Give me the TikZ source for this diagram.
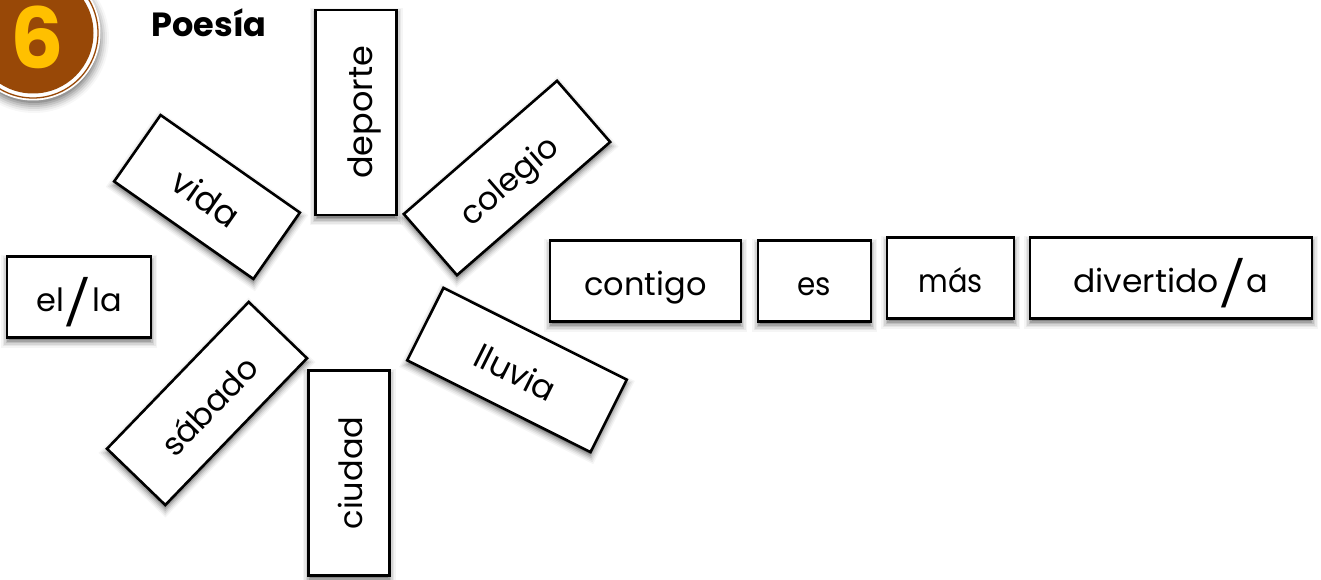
\documentclass[tikz,border=0pt]{standalone}
\usepackage{fontspec}
\setmainfont{Poppins}
\newfontfamily\thinface{Poppins Light}
\tikzset{
 x=1pt,y=-1pt,
 word/.style={draw=black,line width=2.6pt,fill=white,minimum height=81pt,inner sep=0pt,font=\fontsize{32}{32}\selectfont,text=black,anchor=center,text height=28pt,text depth=0pt},
}
\newcommand{\softbox}[4]{% cx, cy, width, angle
 \begin{scope}[shift={(#1,#2+4)},rotate=#4]
 \foreach \s/\o in {6/.04,4.5/.06,3/.08,1.5/.11,0/.15,-1.5/.18}{
  \fill[black,opacity=\o] ({-#3/2-\s},{-40.5-\s}) rectangle ({#3/2+\s},{40.5+\s});}
 \end{scope}}
\newcommand{\bigslash}{\raisebox{-8.5pt}{\scalebox{2}[1.4]{\thinface /}}}
\definecolor{badge}{HTML}{984807}
\definecolor{six}{HTML}{FFC000}
\begin{document}
\begin{tikzpicture}
\useasboundingbox (0,0) rectangle (1321,580);
\begin{scope}
\clip (0,0) rectangle (1321,580);
\foreach \r/\o in {75/.03,73/.05,71/.07,69/.09,67/.11,65/.14}{\fill[black,opacity=\o] (34,38) circle[radius=\r pt];}
\fill[white] (33,33) circle[radius=67.5pt];
\draw[badge,line width=1.3pt] (33,33) circle[radius=65pt];
\fill[badge] (33,33) circle[radius=60.5pt];
\node[font=\fontsize{84}{84}\selectfont\bfseries,text=six] (six) at (37.5,37) {6};
\end{scope}
\node[font=\fontsize{33.5}{33.5}\selectfont\bfseries,text=black] (poesia) at (209,23) {Poesía};
\softbox{207}{197}{170}{-35}
\softbox{356}{112.5}{205}{90}
\softbox{507}{178}{203}{41}
\softbox{517}{370}{205}{-26.6}
\softbox{349}{473}{205}{90}
\softbox{207}{403.5}{204}{46}
\softbox{79}{297}{144}{0}
\softbox{645.5}{281}{191}{0}
\softbox{814.5}{281}{113}{0}
\softbox{950.5}{278}{127}{0}
\softbox{1171}{278}{282}{0}
\node[word,minimum width=170pt,rotate=-35,font=\fontsize{34}{34}\selectfont] (vida) at (207,197) {vida};
\node[word,minimum width=205pt,rotate=90,font=\fontsize{33.5}{33.5}\selectfont,text height=32pt] (deporte) at (356,112.5) {deporte};
\node[word,minimum width=203pt,rotate=41] (colegio) at (507,178) {colegio};
\node[word,minimum width=205pt,rotate=-26.6,font=\fontsize{33}{33}\selectfont,text height=30pt] (lluvia) at (517,370) {lluvia};
\node[word,minimum width=205pt,rotate=90,text height=26pt] (ciudad) at (349,473) {ciudad};
\node[word,minimum width=204pt,rotate=46,text height=31pt] (sabado) at (207,403.5) {sábado};
\node[word,minimum width=144pt] (ella) at (79,297) {el\bigslash la};
\node[word,minimum width=191pt] (contigo) at (645.5,281) {contigo};
\node[word,minimum width=113pt] (es) at (814.5,281) {\scalebox{.92}[1]{es}};
\node[word,minimum width=127pt] (mas) at (950.5,278) {\scalebox{.9}[1]{más}};
\node[word,minimum width=282pt] (div) at (1171,278) {\scalebox{1.03}[1]{divertido}\bigslash a};
\end{tikzpicture}
\end{document}
